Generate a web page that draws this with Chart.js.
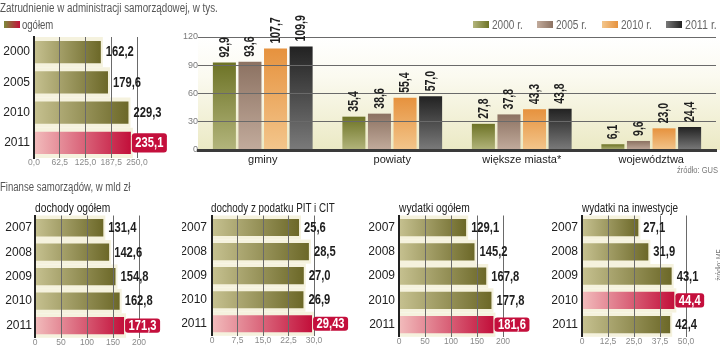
<!DOCTYPE html>
<html>
<head>
<meta charset="utf-8">
<script src="https://cdn.jsdelivr.net/npm/chart.js@4.4.1/dist/chart.umd.min.js"></script>
<style>
  body { margin: 0; width: 720px; height: 348px; position: relative; overflow: hidden; background: #fff;
         font-family: 'Liberation Sans', Arial, sans-serif; }
  canvas { position: absolute; left: 0; top: 0; }
  .t { position: absolute; white-space: nowrap; line-height: 1; z-index: 5; transform-origin: left top; }
  .head { font-size: 12px; color: #555; }
  .sub { font-size: 13px; color: #222; }
  .leg { font-size: 12px; color: #666; }
  .sw { position: absolute; width: 16px; height: 7px; z-index: 5; }
  .src { font-size: 9px; color: #777; }
</style>
</head>
<body>
<div class="t head" data-w="218" style="left:0;top:2px">Zatrudnienie w administracji samorządowej, w tys.</div>
<div class="sw" style="left:4px;top:21px;background:linear-gradient(to right,#7c8a3a,#c2103a)"></div>
<div class="t leg" data-w="31" style="left:22px;top:19px;color:#555">ogółem</div>

<div class="sw" style="left:473px;top:21px;background:linear-gradient(to right,#b3b57c,#6d7326)"></div>
<div class="t leg" data-w="31" style="left:492px;top:19px">2000 r.</div>
<div class="sw" style="left:537px;top:21px;background:linear-gradient(to right,#c2ab9c,#8c7262)"></div>
<div class="t leg" data-w="31" style="left:556px;top:19px">2005 r.</div>
<div class="sw" style="left:602px;top:21px;background:linear-gradient(to right,#f3c68c,#e6923e)"></div>
<div class="t leg" data-w="31" style="left:621px;top:19px">2010 r.</div>
<div class="sw" style="left:666px;top:21px;background:linear-gradient(to right,#7a7a7a,#222)"></div>
<div class="t leg" data-w="32" style="left:685px;top:19px">2011 r.</div>
<div class="t src" data-w="41" style="left:677px;top:166px">źródło: GUS</div>

<div class="t head" data-w="130" style="left:0;top:181px">Finanse samorządów, w mld zł</div>
<div class="t sub" data-w="75" style="left:35px;top:201px">dochody ogółem</div>
<div class="t sub" data-w="124" style="left:211px;top:201px">dochody z podatku PIT i CIT</div>
<div class="t sub" data-w="71" style="left:399px;top:201px">wydatki ogółem</div>
<div class="t sub" data-w="96" style="left:582px;top:201px">wydatki na inwestycje</div>
<div style="position:absolute;left:708px;top:281px;transform:rotate(-90deg);transform-origin:left top;z-index:5">
  <span class="t src" data-w="32" style="position:static;display:inline-block">źródło: MF</span>
</div>

<canvas id="emp" width="720" height="348"></canvas>
<canvas id="units" width="720" height="348"></canvas>
<canvas id="inc" width="720" height="348"></canvas>
<canvas id="pit" width="720" height="348"></canvas>
<canvas id="spend" width="720" height="348"></canvas>
<canvas id="inv" width="720" height="348"></canvas>

<script>
// zatrudnienie ogółem, tys.
const empYears = ['2000', '2005', '2010', '2011'];
const empTotal = [162.2, 179.6, 229.3, 235.1];

// zatrudnienie wg szczebla, tys.
const unitCats = ['gminy', 'powiaty', 'większe miasta*', 'województwa'];
const units2000 = [92.9, 35.4, 27.8, 6.1];
const units2005 = [93.6, 38.6, 37.8, 9.6];
const units2010 = [107.7, 55.4, 43.3, 23.0];
const units2011 = [109.9, 57.0, 43.8, 24.4];

// finanse, mld zł
const finYears = ['2007', '2008', '2009', '2010', '2011'];
const incomeTotal = [131.4, 142.6, 154.8, 162.8, 171.3];
const incomePitCit = [25.6, 28.5, 27.0, 26.9, 29.43];
const spendTotal = [129.1, 145.2, 167.8, 177.8, 181.6];
const spendInvest = [27.1, 31.9, 43.1, 44.4, 42.4];

const SANS = "'Liberation Sans', Arial, sans-serif";
const VALUE_FONT = 'bold 14px ' + SANS;

// no condensed face installed, so squeeze the html captions to their widths
document.querySelectorAll('[data-w]').forEach(el => {
  const w = el.offsetWidth;
  el.style.transform = 'scaleX(' + (el.dataset.w / w) + ')';
  el.style.transformOrigin = 'left top';
});

function fmt(v, d) { return v.toFixed(d).replace('.', ','); }
function fmtVal(v) {
  const one = Math.abs(v * 10 - Math.round(v * 10)) < 1e-6;
  return fmt(v, one ? 1 : 2);
}

function hGrad(light, dark) {
  return function (ctx) {
    const chart = ctx.chart;
    if (!chart.chartArea || ctx.type !== 'data') return dark;
    const xs = chart.scales.x;
    const x0 = xs.getPixelForValue(0), x1 = xs.getPixelForValue(ctx.raw);
    const g = chart.ctx.createLinearGradient(x0, 0, x1, 0);
    g.addColorStop(0, light);
    g.addColorStop(1, dark);
    return g;
  };
}
function vGrad(top, bottom) {
  return function (ctx) {
    const chart = ctx.chart;
    if (!chart.chartArea || ctx.type !== 'data') return top;
    const ys = chart.scales.y;
    const g = chart.ctx.createLinearGradient(0, ys.getPixelForValue(ctx.raw), 0, ys.getPixelForValue(0));
    g.addColorStop(0, top);
    g.addColorStop(1, bottom);
    return g;
  };
}

const SQ = 0.8; // horizontal squeeze for value labels

// cream band behind each horizontal bar + value labels
const hbarDeco = {
  id: 'hbarDeco',
  beforeDatasetsDraw(chart) {
    const ctx = chart.ctx, area = chart.chartArea;
    const bars = chart.getDatasetMeta(0).data;
    const pitch = (area.bottom - area.top) / bars.length;
    ctx.save();
    ctx.fillStyle = '#f5f2de';
    bars.forEach(b => ctx.fillRect(area.left, b.y - pitch / 2, b.x - area.left + 2, pitch));
    ctx.restore();
  },
  afterDraw(chart, args, opts) {
    const ctx = chart.ctx;
    const vals = chart.data.datasets[0].data;
    ctx.save();
    ctx.font = VALUE_FONT;
    ctx.textBaseline = 'middle';
    ctx.textAlign = 'left';
    chart.getDatasetMeta(0).data.forEach((b, i) => {
      const txt = fmtVal(vals[i]);
      let x = b.x + 5;
      if (i === opts.highlight) {
        const w = ctx.measureText(txt).width * SQ + 7;
        const h = b.height - 3;
        ctx.fillStyle = '#c40f3c';
        ctx.beginPath();
        ctx.roundRect(b.x + 1, b.y - h / 2, w, h, 3);
        ctx.fill();
        ctx.fillStyle = '#fff';
        x = b.x + 4.5;
      } else {
        ctx.fillStyle = '#1e1e1e';
      }
      ctx.save();
      ctx.translate(x, b.y + 0.5);
      ctx.scale(SQ, 1);
      ctx.fillText(txt, 0, 0);
      ctx.restore();
    });
    ctx.restore();
  }
};

function hbarChart(id, labels, values, hi, max, step, area, tickFmt, barPct) {
  const olive = hGrad('#c6c190', '#6c6828');
  const red = hGrad('#f2bcbc', '#c20f3a');
  new Chart(document.getElementById(id), {
    type: 'bar',
    data: {
      labels: labels,
      datasets: [{
        data: values,
        backgroundColor: ctx => (ctx.dataIndex === hi ? red : olive)(ctx),
        categoryPercentage: 1,
        barPercentage: barPct,
        borderWidth: 0
      }]
    },
    options: {
      indexAxis: 'y',
      responsive: false,
      animation: false,
      events: [],
      layout: { padding: { left: area.l - area.yw, right: 720 - area.r, top: area.t, bottom: 348 - area.b - area.xh } },
      plugins: { legend: { display: false }, tooltip: { enabled: false }, hbarDeco: { highlight: hi } },
      scales: {
        x: {
          min: 0, max: max,
          afterFit: s => { s.height = area.xh; },
          ticks: { stepSize: step, padding: 0, maxRotation: 0, minRotation: 0, autoSkip: false,
                   color: '#8a8a8a', font: { family: SANS, size: 8.5 }, callback: tickFmt },
          grid: { z: 1, drawTicks: false, lineWidth: 1, borderDash: [1, 2],
                  color: c => (c.tick && c.tick.value === 0 ? 'rgba(0,0,0,0)' : '#6a6a6a') },
          border: { display: false }
        },
        y: {
          afterFit: s => { s.width = area.yw; },
          ticks: { padding: area.tp, color: '#222', font: { family: SANS, size: 12 } },
          grid: { display: false, drawTicks: false },
          border: { display: true, color: '#222', width: 2, z: 1 }
        }
      }
    },
    plugins: [hbarDeco]
  });
}

// top-left: employment total
hbarChart('emp', empYears, empTotal, 3, 250, 62.5,
  { l: 34, r: 137, t: 37, b: 158, yw: 34, xh: 12, tp: 4 }, v => fmt(v, 1), 0.73);

// bottom: finance
const finArea = (l, r, tp) => ({ l: l, r: r, t: 215.5, b: 338.5, yw: 30, xh: 9.5, tp: tp });
const intTicks = v => String(v);
const decTicks = v => (v === 0 ? '0' : fmt(v, 1));
hbarChart('inc', finYears, incomeTotal, 4, 200, 50, finArea(35, 139, 3), intTicks, 0.71);
hbarChart('pit', finYears, incomePitCit, 4, 30, 7.5, finArea(212, 314, 5), decTicks, 0.71);
hbarChart('spend', finYears, spendTotal, 4, 200, 50, finArea(399, 503, 4), intTicks, 0.71);
hbarChart('inv', finYears, spendInvest, 3, 50, 12.5, finArea(582, 686, 4), decTicks, 0.71);

// top-right: grouped vertical bars
const vbarDeco = {
  id: 'vbarDeco',
  beforeDraw(chart) {
    const ctx = chart.ctx, a = chart.chartArea;
    const g = ctx.createLinearGradient(0, a.top, 0, a.bottom);
    g.addColorStop(0, '#ffffff');
    g.addColorStop(0.35, '#fbfaf0');
    g.addColorStop(1, '#ebe9c4');
    ctx.save();
    ctx.fillStyle = g;
    ctx.fillRect(a.left, a.top, 720 - a.left, a.bottom - a.top);
    ctx.restore();
  },
  afterDraw(chart) {
    const ctx = chart.ctx;
    ctx.save();
    ctx.font = VALUE_FONT;
    ctx.fillStyle = '#1e1e1e';
    ctx.textAlign = 'left';
    ctx.textBaseline = 'middle';
    chart.data.datasets.forEach((ds, di) => {
      chart.getDatasetMeta(di).data.forEach((b, i) => {
        ctx.save();
        ctx.translate(b.x + 0.5, b.y - 5);
        ctx.rotate(-Math.PI / 2);
        ctx.scale(0.75, 1);
        ctx.fillText(fmtVal(ds.data[i]), 0, 0);
        ctx.restore();
      });
    });
    ctx.restore();
  }
};

const vArea = { l: 198, r: 716, t: 37, b: 150, yw: 30, xh: 22 };
const seriesStyle = [
  ['2000 r.', units2000, '#6d7326', '#b3b57c'],
  ['2005 r.', units2005, '#8c7262', '#c2ab9c'],
  ['2010 r.', units2010, '#e6923e', '#f3c68c'],
  ['2011 r.', units2011, '#222222', '#7a7a7a']
];
new Chart(document.getElementById('units'), {
  type: 'bar',
  data: {
    labels: unitCats,
    datasets: seriesStyle.map(s => ({
      label: s[0], data: s[1], backgroundColor: vGrad(s[2], s[3]),
      categoryPercentage: 0.79, barPercentage: 0.9, borderWidth: 0
    }))
  },
  options: {
    responsive: false,
    animation: false,
    events: [],
    layout: { padding: { left: vArea.l - vArea.yw, right: 720 - vArea.r, top: vArea.t, bottom: 348 - vArea.b - vArea.xh } },
    plugins: { legend: { display: false }, tooltip: { enabled: false } },
    scales: {
      x: {
        afterFit: s => { s.height = vArea.xh; },
        ticks: { padding: 3, color: '#222', font: { family: SANS, size: 11 } },
        grid: { display: false, drawTicks: false },
        border: { display: true, color: '#3a3a3a', width: 3, z: 1 }
      },
      y: {
        min: 0, max: 120,
        afterFit: s => { s.width = vArea.yw; },
        ticks: { stepSize: 30, padding: 0, color: '#7a7a7a', font: { family: SANS, size: 9 } },
        grid: { z: 1, drawTicks: false, lineWidth: 1, borderDash: [2, 2],
                color: c => (c.tick && c.tick.value === 0 ? 'rgba(0,0,0,0)' : '#6a6a6a') },
        border: { display: false }
      }
    }
  },
  plugins: [vbarDeco]
});
</script>
</body>
</html>
